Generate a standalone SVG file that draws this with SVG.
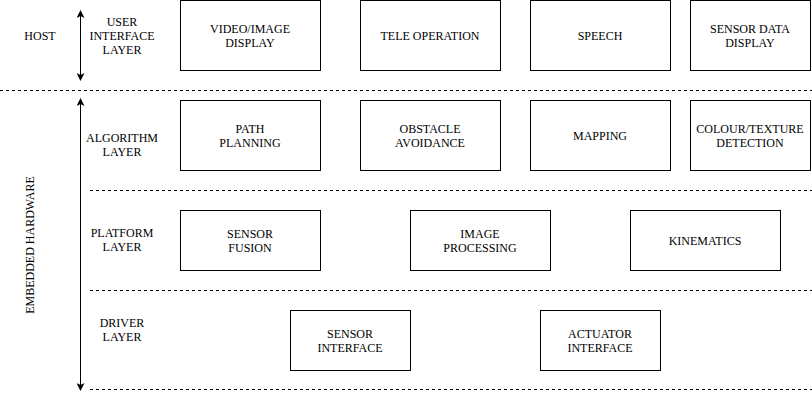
<svg xmlns="http://www.w3.org/2000/svg" width="812" height="400" viewBox="0 0 812 400">
<style>
text{font-family:"Liberation Serif","Times New Roman","DejaVu Serif",serif;font-size:12px;fill:#000;text-anchor:middle}
.b{fill:#fff;stroke:#000;stroke-width:1}
.d{stroke:#000;stroke-dasharray:3 3;fill:none}
.a{stroke:#000;fill:none}
</style>
<defs><marker id="m" markerWidth="8" markerHeight="8" refX="7" refY="4" orient="auto" markerUnits="userSpaceOnUse"><path d="M0,0 L8,4 L0,8 L2,4 Z" fill="#000"/></marker></defs>
<g id="connectors">
<line class="d" x1="0" y1="90.5" x2="812" y2="90.5"/>
<line class="d" x1="90" y1="190.5" x2="812" y2="190.5"/>
<line class="d" x1="90" y1="290.5" x2="812" y2="290.5"/>
<line class="d" x1="90" y1="389.5" x2="812" y2="389.5"/>
<line class="a" x1="80.5" y1="45" x2="80.5" y2="11" marker-end="url(#m)"/>
<line class="a" x1="80.5" y1="45" x2="80.5" y2="80" marker-end="url(#m)"/>
<line class="a" x1="80.5" y1="245" x2="80.5" y2="99" marker-end="url(#m)"/>
<line class="a" x1="80.5" y1="245" x2="80.5" y2="390" marker-end="url(#m)"/>
</g>
<g id="labels">
<text x="40" y="40">HOST</text>
<text x="122" y="26">USER</text><text x="122" y="40">INTERFACE</text><text x="122" y="54">LAYER</text>
<text x="122" y="142">ALGORITHM</text><text x="122" y="156">LAYER</text>
<text x="122" y="237">PLATFORM</text><text x="122" y="251">LAYER</text>
<text x="122" y="327">DRIVER</text><text x="122" y="341">LAYER</text>
<text transform="translate(34,245) rotate(-90)">EMBEDDED HARDWARE</text>
</g>
<g id="n1"><rect class="b" x="180.5" y="0.5" width="140" height="70"/><text x="250" y="33">VIDEO/IMAGE</text><text x="250" y="47">DISPLAY</text></g>
<g id="n2"><rect class="b" x="360.5" y="0.5" width="140" height="70"/><text x="430" y="40">TELE OPERATION</text></g>
<g id="n3"><rect class="b" x="530.5" y="0.5" width="140" height="70"/><text x="600" y="40">SPEECH</text></g>
<g id="n4"><rect class="b" x="690.5" y="0.5" width="120" height="70"/><text x="750" y="33">SENSOR DATA</text><text x="750" y="47">DISPLAY</text></g>
<g id="n5"><rect class="b" x="180.5" y="100.5" width="140" height="70"/><text x="250" y="133">PATH</text><text x="250" y="147">PLANNING</text></g>
<g id="n6"><rect class="b" x="360.5" y="100.5" width="140" height="70"/><text x="430" y="133">OBSTACLE</text><text x="430" y="147">AVOIDANCE</text></g>
<g id="n7"><rect class="b" x="530.5" y="100.5" width="140" height="70"/><text x="600" y="140">MAPPING</text></g>
<g id="n8"><rect class="b" x="690.5" y="100.5" width="120" height="70"/><text x="750" y="133">COLOUR/TEXTURE</text><text x="750" y="147">DETECTION</text></g>
<g id="n9"><rect class="b" x="180.5" y="210.5" width="140" height="60"/><text x="250" y="238">SENSOR</text><text x="250" y="252">FUSION</text></g>
<g id="n10"><rect class="b" x="410.5" y="210.5" width="140" height="60"/><text x="480" y="238">IMAGE</text><text x="480" y="252">PROCESSING</text></g>
<g id="n11"><rect class="b" x="630.5" y="210.5" width="150" height="60"/><text x="705" y="245">KINEMATICS</text></g>
<g id="n12"><rect class="b" x="290.5" y="310.5" width="120" height="60"/><text x="350" y="338">SENSOR</text><text x="350" y="352">INTERFACE</text></g>
<g id="n13"><rect class="b" x="540.5" y="310.5" width="120" height="60"/><text x="600" y="338">ACTUATOR</text><text x="600" y="352">INTERFACE</text></g>
</svg>
